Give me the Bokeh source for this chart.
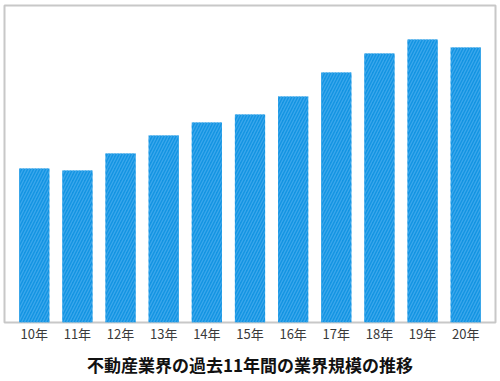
from bokeh.plotting import figure
from bokeh.models import ColumnDataSource, Range1d, FactorRange, Title
from bokeh.embed import file_html
from bokeh.resources import INLINE

years = ["10年", "11年", "12年", "13年", "14年", "15年", "16年", "17年", "18年", "19年", "20年"]
scale = [15.4, 15.2, 16.9, 18.7, 20.0, 20.8, 22.6, 25.0, 26.9, 28.3, 27.5]
y_max = 31.7

src = ColumnDataSource(dict(x=years, y=scale))

p = figure(x_range=FactorRange(*years, range_padding=0.19, range_padding_units="absolute"),
           y_range=Range1d(0, y_max),
           width=500, height=381, output_backend="svg", toolbar_location=None,
           min_border_left=4, min_border_right=5, min_border_top=5, min_border_bottom=20)

p.vbar(x="x", top="y", width=0.7, source=src, fill_color="#1394e2", line_color=None,
       hatch_pattern="/", hatch_color="#3ba7ec", hatch_scale=6, hatch_weight=1.3)

p.yaxis.visible = False
p.xgrid.visible = False
p.ygrid.visible = False
p.outline_line_color = "#c8c8c8"
p.outline_line_width = 2

xa = p.xaxis[0]
xa.axis_line_color = None
xa.major_tick_line_color = None
xa.minor_tick_line_color = None
xa.major_tick_out = 0
xa.major_tick_in = 0
xa.major_label_standoff = 1
xa.major_label_text_font = "Noto Sans CJK JP"
xa.major_label_text_font_size = "13px"
xa.major_label_text_color = "#3a3a3a"

t = Title(text="不動産業界の過去11年間の業界規模の推移", align="center",
          text_font="Noto Sans CJK JP", text_font_size="17px", text_font_style="bold",
          text_color="#111111", standoff=9)
p.add_layout(t, "below")

open("out.html", "w").write(file_html(p, INLINE))
